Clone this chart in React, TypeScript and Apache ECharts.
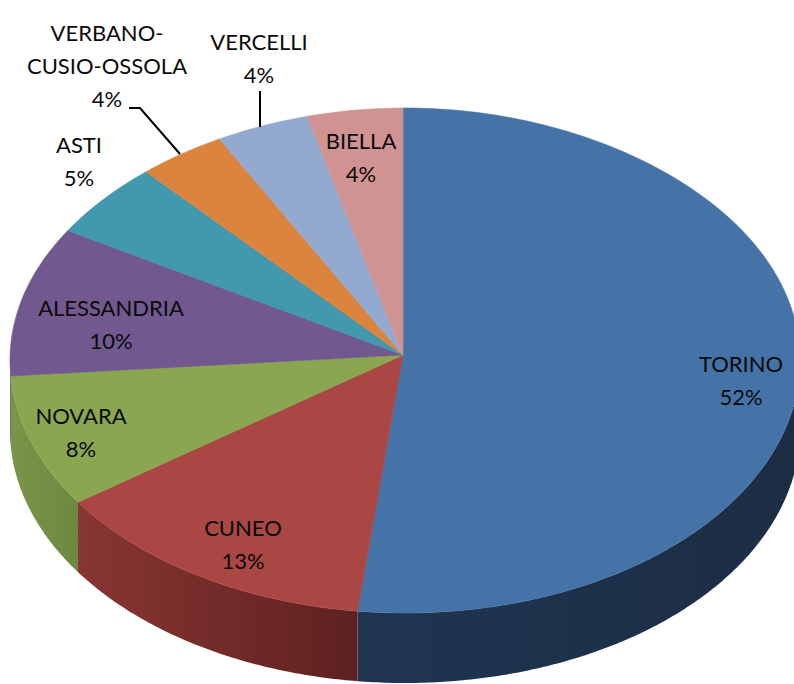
import React, { useEffect, useRef } from "react";
import * as echarts from "echarts";

const categories = ["TORINO", "CUNEO", "NOVARA", "ALESSANDRIA", "ASTI", "VERBANO-CUSIO-OSSOLA", "VERCELLI", "BIELLA"];
const shares = [52.0, 13.6, 8.5, 9.7, 4.9, 3.6, 3.8, 3.9];
const percentLabels = ["52%", "13%", "8%", "10%", "5%", "4%", "4%", "4%"];
const topColors = ["#4573a7", "#aa4643", "#8ba650", "#71588f", "#4198af", "#db843d", "#93a9cf", "#d19392"];
const wallLeft = ["#1f3552", "#883632", "#7a9548", "#55426c", "#31727f", "#a4622d", "#6f7f9b", "#9d6e6e"];
const wallRight = ["#1c2d43", "#5e2120", "#6d8941", "#55426c", "#31727f", "#a4622d", "#6f7f9b", "#9d6e6e"];
const labelNames = ["TORINO", "CUNEO", "NOVARA", "ALESSANDRIA", "ASTI", "VERBANO-\nCUSIO-OSSOLA", "VERCELLI", "BIELLA"];
const labelCenters = [[741, 380], [243, 544], [81, 432], [111, 324], [79, 161], [107, 65], [259, 58], [361, 157]];
const leaderLines = [
  [[129, 108], [140, 108], [180, 154]],
  [[260, 91], [260, 127]],
];

const APEX = { x: 403, y: 355 };
const RIM = { cx: 405, cy: 360.5, rx: 395, ry: 252.5, depth: 70, flatten: 2 };
const START = -0.005; // radians, puts the first seam straight above the apex
const LINE_H = 33;
const FONT = "Lato, Carlito, 'Open Sans', sans-serif";

const total = shares.reduce((a, b) => a + b, 0);

function rim(t: number, drop = 0) {
  const c = Math.cos(t);
  const s2 = Math.sin(2 * t);
  const flat = c > 0 ? RIM.flatten * s2 * s2 : 0;
  return [RIM.cx + RIM.rx * Math.sin(t), RIM.cy - RIM.ry * c + drop + flat];
}
function arc(a: number, b: number, drop = 0) {
  const n = Math.max(2, Math.ceil(Math.abs(b - a) / 0.01));
  const pts: number[][] = [];
  for (let i = 0; i <= n; i++) pts.push(rim(a + ((b - a) * i) / n, drop));
  return pts;
}

function renderSlice(params: any, api: any) {
  const i = params.dataIndex;
  let before = 0;
  for (let k = 0; k < i; k++) before += shares[k];
  const a = START + (before / total) * Math.PI * 2;
  const b = START + ((before + api.value(0)) / total) * Math.PI * 2;
  const children: any[] = [];
  const wa = Math.max(a, Math.PI / 2);
  const wb = Math.min(b, (Math.PI * 3) / 2);
  if (wb > wa) {
    const front = arc(wa, wb);
    const back = arc(wa, wb, RIM.depth).reverse();
    children.push({
      type: "polygon",
      shape: { points: front.concat(back) },
      style: {
        fill: new echarts.graphic.LinearGradient(0, 0, 1, 0, [
          { offset: 0, color: wallLeft[i] },
          { offset: 1, color: wallRight[i] },
        ]),
      },
      z2: 1,
    });
  }
  children.push({
    type: "polygon",
    shape: { points: [[APEX.x, APEX.y], ...arc(a, b)] },
    style: { fill: topColors[i], stroke: topColors[i], lineWidth: 0.6 },
    z2: 2,
  });
  return { type: "group", children };
}

function renderLabel(params: any) {
  const i = params.dataIndex;
  return {
    type: "text",
    x: labelCenters[i][0],
    y: labelCenters[i][1],
    z2: 5,
    style: {
      text: labelNames[i] + "\n" + percentLabels[i],
      fill: "#0a0a0a",
      font: `22px ${FONT}`,
      lineHeight: LINE_H,
      align: "center",
      verticalAlign: "middle",
    },
  };
}

export default function App() {
  const ref = useRef<HTMLDivElement>(null);
  useEffect(() => {
    document.body.style.margin = "0";
    document.body.style.background = "#ffffff";
    const chart = echarts.init(ref.current!, null, { renderer: "svg" });
    chart.setOption({
      animation: false,
      backgroundColor: "#ffffff",
      tooltip: { show: false },
      series: [
        {
          type: "custom",
          name: "Slices",
          coordinateSystem: "none",
          silent: true,
          renderItem: renderSlice,
          data: categories.map((name, i) => ({ name, value: [shares[i]] })),
          z: 1,
        },
        {
          type: "custom",
          name: "Labels",
          coordinateSystem: "none",
          silent: true,
          renderItem: renderLabel,
          data: categories.map((name, i) => ({ name, value: [shares[i]] })),
          z: 3,
        },
      ],
      graphic: leaderLines.map((points) => ({
        type: "polyline",
        z: 2,
        shape: { points },
        style: { stroke: "#000000", lineWidth: 2, fill: "none" },
      })),
    });
    return () => chart.dispose();
  }, []);
  return <div ref={ref} style={{ width: 794, height: 684, overflow: "hidden" }} />;
}
